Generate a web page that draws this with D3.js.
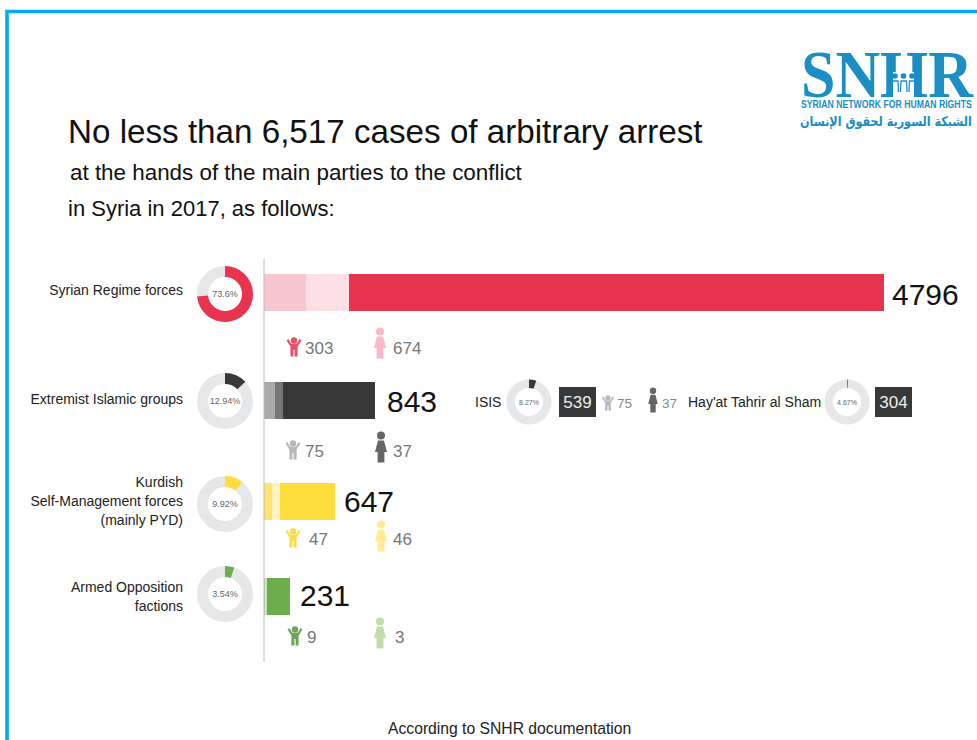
<!DOCTYPE html>
<html>
<head>
<meta charset="utf-8">
<script src="https://cdn.jsdelivr.net/npm/d3@7"></script>
<style>
  html, body { margin: 0; padding: 0; background: #fff; }
  svg { display: block; }
  text { font-family: "Liberation Sans", Arial, sans-serif; }
</style>
</head>
<body>
<script>
// values
const categories = [["Syrian Regime forces"], ["Extremist Islamic groups"],
    ["Kurdish", "Self-Management forces", "(mainly PYD)"], ["Armed Opposition", "factions"]]
const totals = [4796, 843, 647, 231]
const children = [303, 75, 47, 9]
const women = [674, 37, 46, 3]
const ringLabels = ["73.6%", "12.94%", "9.92%", "3.54%"]
const ringDrawn = [73.6, 12.94, 10.6, 5.4] // as drawn, not as labelled

const subNames = ["ISIS", "Hay'at Tahrir al Sham"]
const subTotals = [539, 304]
const subRingLabels = ["8.27%", "4.67%"]
const subRingDrawn = [5.2, 0.5]
const isisChildren = 75
const isisWomen = 37

// colours per row: main, women segment, children segment, child icon, woman icon
const barColors = ["#e9344f", "#383838", "#fedd3c", "#6cae4c"]
const childSeg = ["#f9c5d0", "#a9a9a9", "#ffe36e", "#b4d59c"]
const womenSeg = ["#fde0e5", "#757575", "#fef1c4", "#c9e2b6"]
const childIcon = ["#ee4f68", "#b8b8b8", "#fddc4a", "#6ea558"]
const womanIcon = ["#f9b9c6", "#666666", "#ffec94", "#c4dcaa"]

// layout
const w = 977, h = 740
const barLeft = 264
const barY = [274, 382, 483, 578]
const barH = 37
const ringX = 225
const ringY = [294, 401, 504, 594]
const totalPos = [[892, 305], [387, 412], [344, 512], [300, 606]]
const childPos = [[294, 347], [293, 450], [293, 538], [295, 636]]
const womanPos = [[380, 343], [381, 447], [381, 536], [380, 633]]
const childNumX = [305, 305, 309, 307]
const womanNumX = [393, 393, 393, 395]
const numY = [354, 457, 545, 643]
const labelY = [295, 404, 487, 592]

// the source bars are not drawn to one common scale, so each row has its own
const rowScales = [
    d3.scaleLinear().domain([0, 303, 977, 4796]).range([0, 42.5, 85, 620]),
    d3.scaleLinear().domain([0, 75, 112, 843]).range([0, 11, 19, 111]),
    d3.scaleLinear().domain([0, 47, 93, 647]).range([0, 8, 16, 71]),
    d3.scaleLinear().domain([0, 9, 12, 231]).range([0, 1.5, 3, 26])
]

const svg = d3.select("body").append("svg").attr("width", w).attr("height", h)

// frame
svg.append("path")
    .attr("d", d3.line()([[7, h], [7, 11.5], [w, 11.5]]))
    .attr("fill", "none").attr("stroke", "#00aeef").attr("stroke-width", 3.6)

// squeeze a logo text to the wanted width
function fit(sel, x, y, width) {
    const k = width / sel.node().getComputedTextLength()
    sel.attr("transform", "translate(" + x + "," + y + ") scale(" + k + ",1)")
}

// logo
const logo = svg.append("g").attr("fill", "#1b8fc4")
const logoName = logo.append("text")
    .style("font-family", "'Liberation Serif', serif").style("font-weight", "bold").style("font-size", "68px")
    .text("SNHR")
fit(logoName, 801, 97, 172)
logo.append("rect").attr("x", 893).attr("y", 72).attr("width", 21).attr("height", 26).attr("fill", "#fff")
d3.range(3).forEach(i => {
    logo.append("circle").attr("cx", 895 + i * 8.5).attr("cy", 76).attr("r", 2.8)
    logo.append("path").attr("d", d3.line()([[892 + i * 8.5, 92], [892.5 + i * 8.5, 81], [898 + i * 8.5, 81], [898.5 + i * 8.5, 92]]))
        .attr("fill", "none").attr("stroke", "#1b8fc4").attr("stroke-width", 1.3)
})
const logoEn = logo.append("text").style("font-weight", "bold").style("font-size", "10.5px")
    .text("SYRIAN NETWORK FOR HUMAN RIGHTS")
fit(logoEn, 801, 108, 171)
const logoAr = logo.append("text")
    .style("font-family", "'DejaVu Sans', sans-serif").style("font-weight", "bold").style("font-size", "13.5px")
    .text("الشبكة السورية لحقوق الإنسان")
fit(logoAr, 800, 126, 172)

// headline
svg.append("text").attr("x", 68).attr("y", 143).style("font-size", "33.2px").attr("fill", "#111")
    .text("No less than 6,517 cases of arbitrary arrest")
svg.append("text").attr("x", 70).attr("y", 180).style("font-size", "22.4px").attr("fill", "#111")
    .text("at the hands of the main parties to the conflict")
svg.append("text").attr("x", 68).attr("y", 216).style("font-size", "22px").attr("fill", "#111")
    .text("in Syria in 2017, as follows:")

// icons
const defs = svg.append("defs")
const kid = defs.append("g").attr("id", "kid")
kid.append("circle").attr("cx", 0).attr("cy", -6.6).attr("r", 3.2)
kid.append("path").attr("d", "M-7.5,-6.5 L-5.6,-8 L-2.8,-3.2 L2.8,-3.2 L5.6,-8 L7.5,-6.5 L3.6,-0.5 L3.6,9.5 L0.6,9.5 L0.6,3 L-0.6,3 L-0.6,9.5 L-3.6,9.5 L-3.6,-0.5 Z")
const woman = defs.append("g").attr("id", "woman")
woman.append("circle").attr("cx", 0).attr("cy", -11.5).attr("r", 4)
woman.append("path").attr("d", "M-3,-6.5 L3,-6.5 L6,5 L3.4,5 L3.4,15.5 L-3.4,15.5 L-3.4,5 L-6,5 Z")

function icon(id, pos, color, s) {
    svg.append("use").attr("href", "#" + id)
        .attr("transform", "translate(" + pos[0] + "," + pos[1] + ") scale(" + (s || 1) + ")")
        .attr("fill", color)
}

// rings
const angle = d3.scaleLinear().domain([0, 100]).range([0, 2 * Math.PI])
function ring(cx, cy, outer, inner, drawn, label, color, size) {
    const arc = d3.arc().innerRadius(inner).outerRadius(outer)
    const g = svg.append("g").attr("transform", "translate(" + cx + "," + cy + ")")
    g.append("circle").attr("r", (outer + inner) / 2).attr("fill", "none")
        .attr("stroke", "#e6e7e8").attr("stroke-width", outer - inner)
    g.append("path").attr("d", arc({ startAngle: 0, endAngle: angle(drawn) })).attr("fill", color)
    g.append("text").attr("text-anchor", "middle").attr("y", size * 0.36)
        .style("font-size", size + "px").attr("fill", "#666").text(label)
}

// main rows
categories.forEach((lines, i) => {
    const s = rowScales[i]
    lines.forEach((line, j) => {
        svg.append("text").attr("x", 183).attr("y", labelY[i] + j * 19).attr("text-anchor", "end")
            .style("font-size", "14px").attr("fill", "#222").text(line)
    })
    ring(ringX, ringY[i], 28, 17, ringDrawn[i], ringLabels[i], barColors[i], 9)

    const segs = [
        [0, children[i], childSeg[i]],
        [children[i], children[i] + women[i], womenSeg[i]],
        [children[i] + women[i], totals[i], barColors[i]]
    ]
    svg.selectAll(null).data(segs).enter().append("rect")
        .attr("x", d => barLeft + s(d[0]))
        .attr("y", barY[i])
        .attr("width", d => s(d[1]) - s(d[0]))
        .attr("height", barH)
        .attr("fill", d => d[2])

    svg.append("text").attr("x", totalPos[i][0]).attr("y", totalPos[i][1])
        .style("font-size", "30px").attr("fill", "#111").text(totals[i])

    icon("kid", childPos[i], childIcon[i])
    icon("woman", womanPos[i], womanIcon[i])
    svg.append("text").attr("x", childNumX[i]).attr("y", numY[i]).style("font-size", "17px").attr("fill", "#777").text(children[i])
    svg.append("text").attr("x", womanNumX[i]).attr("y", numY[i]).style("font-size", "17px").attr("fill", "#777").text(women[i])
})

// axis line
svg.append("line").attr("x1", barLeft).attr("x2", barLeft).attr("y1", 259).attr("y2", 662)
    .attr("stroke", "#bcbcbc").attr("stroke-width", 1)

// breakdown of the extremist groups
const subRingX = [529, 847]
const subBoxX = [559, 875]
const subNameX = [475, 688]
subNames.forEach((name, i) => {
    svg.append("text").attr("x", subNameX[i]).attr("y", 407).style("font-size", "14px").attr("fill", "#222").text(name)
    ring(subRingX[i], 402, 22.5, 14, subRingDrawn[i], subRingLabels[i], "#383838", 7)
    svg.append("rect").attr("x", subBoxX[i]).attr("y", 387).attr("width", 37).attr("height", 30).attr("fill", "#383838")
    svg.append("text").attr("x", subBoxX[i] + 18.5).attr("y", 408).attr("text-anchor", "middle")
        .style("font-size", "17px").attr("fill", "#eee").text(subTotals[i])
})
icon("kid", [608, 403], childIcon[1], 0.8)
icon("woman", [653, 400], womanIcon[1], 0.8)
svg.append("text").attr("x", 617).attr("y", 408).style("font-size", "13.5px").attr("fill", "#888").text(isisChildren)
svg.append("text").attr("x", 662).attr("y", 408).style("font-size", "13.5px").attr("fill", "#888").text(isisWomen)

// footer
svg.append("text").attr("x", 388).attr("y", 734).style("font-size", "15.7px").attr("fill", "#222")
    .text("According to SNHR documentation")
</script>
</body>
</html>
